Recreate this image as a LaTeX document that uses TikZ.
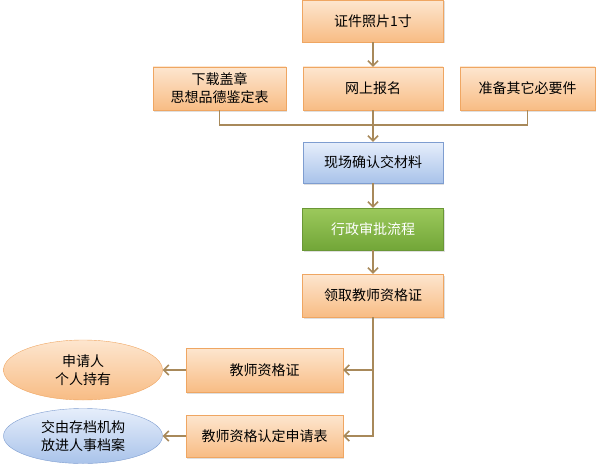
\documentclass[tikz,border=0pt]{standalone}
\usepackage{fontspec}
\setmainfont{Noto Sans CJK SC}
\usepackage{tikz}
\usetikzlibrary{positioning,arrows.meta,shadows,shapes.geometric}
\definecolor{or1}{HTML}{FDE6CF}
\definecolor{or2}{HTML}{F8BC84}
\definecolor{orl}{HTML}{EFA662}
\definecolor{bl1}{HTML}{E6EEFB}
\definecolor{bl2}{HTML}{A9C3EA}
\definecolor{bll}{HTML}{7E9DD0}
\definecolor{gr1}{HTML}{9CC95C}
\definecolor{gr2}{HTML}{72A638}
\definecolor{grl}{HTML}{6A9736}
\definecolor{ln}{HTML}{A8895A}
\tikzstyle{box} = [rectangle, draw=orl, top color=or1, bottom color=or2, minimum height=43pt, align=center, inner sep=0pt, drop shadow={opacity=0.25, shadow xshift=1pt, shadow yshift=-1.5pt}]
\tikzstyle{boxb} = [box, draw=bll, top color=bl1, bottom color=bl2]
\tikzstyle{boxg} = [box, draw=grl, top color=gr1, bottom color=gr2, text=white]
\tikzstyle{ov1} = [ellipse, draw=orl, top color=or1, bottom color=or2, minimum width=159pt, minimum height=60pt, align=center, inner sep=0pt]
\tikzstyle{ov2} = [ov1, draw=bll, top color=bl1, bottom color=bl2, minimum height=55pt]
\tikzstyle{ar} = [draw=ln, line width=1.5pt, -{Straight Barb[length=5pt,width=10pt]}]
\tikzstyle{ln} = [draw=ln, line width=1.5pt]

\begin{document}
\begin{tikzpicture}[x=1pt, y=-1pt, font=\fontsize{14}{18}\selectfont]
\useasboundingbox (0,0) rectangle (596,468);
\node(A)[box, minimum width=141pt, minimum height=42pt] at (373,21) {证件照片1寸};
\node(C)[box, minimum width=140pt] at (373,88.5) {网上报名};
\node(B)[box, minimum width=133pt] at (219.5,88.5) {下载盖章\\思想品德鉴定表};
\node(D)[box, minimum width=135pt] at (527.5,88.5) {准备其它必要件};
\node(E)[boxb, minimum width=140pt, minimum height=41pt] at (373,162.5) {现场确认交材料};
\node(F)[boxg, minimum width=141pt, minimum height=42pt] at (373,229) {行政审批流程};
\node(G)[box, minimum width=141pt] at (373,295.5) {领取教师资格证};
\node(H)[box, minimum width=157pt, minimum height=44pt] at (264.5,370) {教师资格证};
\node(I)[box, minimum width=157pt, minimum height=42pt] at (264.5,436) {教师资格认定申请表};
\node(J)[ov1] at (83,370) {申请人\\个人持有};
\node(K)[ov2] at (83,436) {交由存档机构\\放进人事档案};
\coordinate(M) at (373,125);
\draw[ar](A)--(C);
\draw[ln](B.south)|-(M)-|(D.south);
\draw[ar](C)--(E);
\draw[ar](E)--(F);
\draw[ar](F)--(G);
\draw[ar](G.south)|-(H.east);
\draw[ar](G.south)|-(I.east);
\draw[ar](H.west)--(J.east);
\draw[ar](I.west)--(K.east);
\end{tikzpicture}
\end{document}
